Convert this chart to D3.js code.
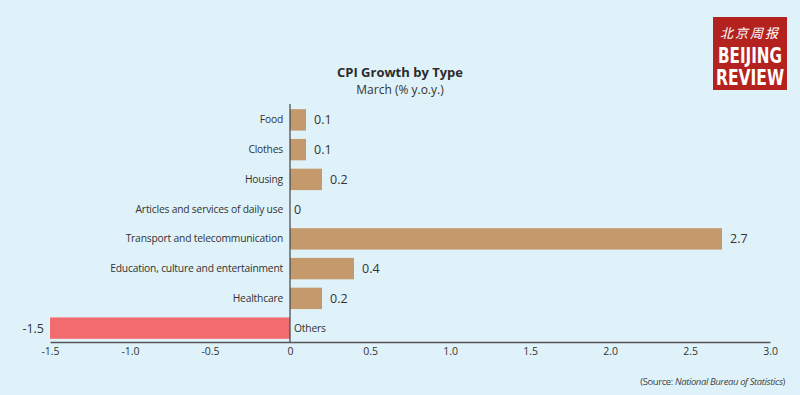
<!DOCTYPE html>
<html><head><meta charset="utf-8">
<script src="https://cdn.jsdelivr.net/npm/d3@7"></script>
<style>
body{margin:0;background:#e0f2f9;}
svg{display:block;font-family:"Open Sans",Lato,sans-serif;}
</style></head>
<body>
<svg id="c" width="800" height="395"></svg>
<script>
const categories = ["Food","Clothes","Housing","Articles and services of daily use","Transport and telecommunication","Education, culture and entertainment","Healthcare","Others"];
const values = [0.1,0.1,0.2,0,2.7,0.4,0.2,-1.5];
const valueLabels = ["0.1","0.1","0.2","0","2.7","0.4","0.2","-1.5"];
const xTicks = [-1.5,-1.0,-0.5,0,0.5,1.0,1.5,2.0,2.5,3.0];
const xTickLabels = ["-1.5","-1.0","-0.5","0","0.5","1.0","1.5","2.0","2.5","3.0"];

const svg = d3.select("#c");
svg.append("rect").attr("width",800).attr("height",395).attr("fill","#e0f2f9");

const x = d3.scaleLinear().domain([-1.5,3.0]).range([50,770]);
const y = d3.scaleBand().domain(categories).range([105,343]).paddingInner(0.28).paddingOuter(0.14);

// title
svg.append("text").attr("x",400).attr("y",77).attr("text-anchor","middle")
  .attr("font-size",13).attr("font-weight","bold").attr("fill","#2b2b2b").text("CPI Growth by Type");
svg.append("text").attr("x",400).attr("y",94).attr("text-anchor","middle")
  .attr("font-size",12).attr("fill","#333").text("March (% y.o.y.)");

// bars
svg.selectAll("rect.bar").data(values).enter().append("rect")
  .attr("class","bar")
  .attr("x",d=>x(Math.min(0,d)))
  .attr("y",(d,i)=>y(categories[i]))
  .attr("width",d=>Math.abs(x(d)-x(0)))
  .attr("height",y.bandwidth())
  .attr("fill",d=>d<0?"#f26b6e":"#c49a6c");

// value labels
svg.selectAll("text.val").data(values).enter().append("text")
  .attr("class","val")
  .attr("x",d=>d<0? x(d)-6 : x(d)+ (d===0?4:8))
  .attr("y",(d,i)=>y(categories[i])+y.bandwidth()/2)
  .attr("dy","0.35em")
  .attr("text-anchor",d=>d<0?"end":"start")
  .attr("font-size",12.5).attr("fill","#333")
  .text((d,i)=>valueLabels[i]);

// category labels
svg.selectAll("text.cat").data(categories).enter().append("text")
  .attr("class","cat")
  .attr("x",(d,i)=>values[i]<0? x(0)+4 : x(0)-7)
  .attr("y",d=>y(d)+y.bandwidth()/2)
  .attr("dy","0.35em")
  .attr("text-anchor",(d,i)=>values[i]<0?"start":"end")
  .attr("font-size",10.3).attr("fill","#333")
  .attr("letter-spacing","-0.2")
  .text(d=>d);

// x axis
const xa = svg.append("g").attr("transform","translate(0,342)")
  .call(d3.axisBottom(x).tickValues(xTicks).tickSize(0).tickPadding(6).tickFormat((d,i)=>xTickLabels[i]));
xa.select(".domain").attr("stroke","#555").attr("stroke-width",1.5);
xa.selectAll("text").attr("font-size",10.5).attr("fill","#333").attr("font-family","'Open Sans',sans-serif");

// y axis line at zero
svg.append("line").attr("x1",x(0)).attr("x2",x(0)).attr("y1",104).attr("y2",342)
  .attr("stroke","#444").attr("stroke-width",1.2);

// source
const src = svg.append("text").attr("x",785).attr("y",385).attr("text-anchor","end")
  .attr("font-size",9.5).attr("fill","#444").attr("letter-spacing","-0.4");
src.append("tspan").text("(Source: ");
src.append("tspan").attr("font-style","italic").text("National Bureau of Statistics");
src.append("tspan").text(")");

// logo
const lg = svg.append("g");
lg.append("rect").attr("x",713).attr("y",17).attr("width",74).attr("height",73).attr("fill","#b3221e");
lg.append("text").attr("x",750).attr("y",38).attr("text-anchor","middle").attr("fill","#fff")
  .attr("font-size",13).attr("font-family","'Noto Sans CJK SC'").attr("font-style","italic").attr("letter-spacing","2").text("北京周报");
lg.append("text").attr("x",750).attr("y",63).attr("text-anchor","middle").attr("fill","#fff")
  .attr("font-size",21).attr("font-weight","bold").attr("font-family","'Liberation Sans Narrow','DejaVu Sans Condensed',sans-serif")
  .attr("textLength",64).attr("lengthAdjust","spacingAndGlyphs").text("BEIJING");
lg.append("text").attr("x",750).attr("y",85).attr("text-anchor","middle").attr("fill","#fff")
  .attr("font-size",21).attr("font-weight","bold").attr("font-family","'Liberation Sans Narrow','DejaVu Sans Condensed',sans-serif")
  .attr("textLength",68).attr("lengthAdjust","spacingAndGlyphs").text("REVIEW");
</script>
</body></html>
